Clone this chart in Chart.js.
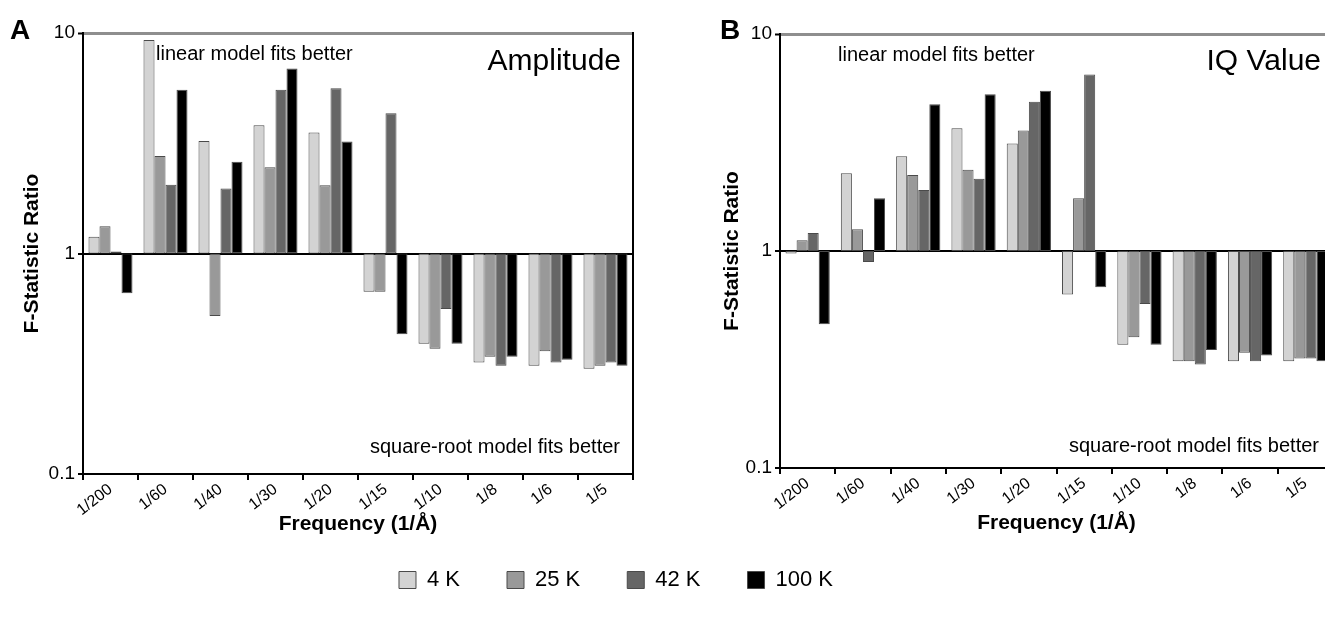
<!DOCTYPE html>
<html>
<head>
<meta charset="utf-8">
<script src="https://cdn.jsdelivr.net/npm/chart.js@4.4.1/dist/chart.umd.min.js"></script>
<style>
  html, body { margin: 0; padding: 0; background: #ffffff; overflow: hidden; }
  #wrap { position: relative; width: 1325px; height: 621px; overflow: hidden; background: #ffffff; }
  #chartA { position: absolute; left: 0; top: 0; }
  #chartB { position: absolute; left: 700px; top: 0; }
</style>
</head>
<body>
<div id="wrap">
  <canvas id="chartA" width="1232" height="630"></canvas>
  <canvas id="chartB" width="700" height="630"></canvas>
</div>
<script>
// ---------- data ----------
const categories = ['1/200', '1/60', '1/40', '1/30', '1/20', '1/15', '1/10', '1/8', '1/6', '1/5'];
const seriesNames = ['4 K', '25 K', '42 K', '100 K'];

// Panel A: Amplitude
const amp4K   = [1.19, 9.3, 3.24, 3.82, 3.54, 0.67, 0.39, 0.32, 0.31, 0.30];
const amp25K  = [1.33, 2.77, 0.52, 2.46, 2.04, 0.67, 0.37, 0.34, 0.36, 0.31];
const amp42K  = [1.02, 2.05, 1.97, 5.53, 5.62, 4.33, 0.56, 0.31, 0.32, 0.32];
const amp100K = [0.66, 5.53, 2.61, 6.91, 3.22, 0.43, 0.39, 0.34, 0.33, 0.31];

// Panel B: IQ Value
const iq4K   = [0.975, 2.28, 2.73, 3.68, 3.13, 0.63, 0.37, 0.31, 0.31, 0.31];
const iq25K  = [1.12, 1.26, 2.24, 2.37, 3.59, 1.75, 0.40, 0.31, 0.34, 0.32];
const iq42K  = [1.21, 0.89, 1.91, 2.15, 4.87, 6.50, 0.57, 0.30, 0.31, 0.32];
const iq100K = [0.46, 1.75, 4.75, 5.27, 5.48, 0.68, 0.37, 0.35, 0.33, 0.31];

const yTickValues = [0.1, 1, 10];
const yTickLabels = ['0.1', '1', '10'];
const baseValue = 1; // bars grow from the F-ratio of 1

// ---------- styles ----------
const FONT = "'Liberation Sans', Arial, Helvetica, sans-serif";
const barColors = ['#d3d3d3', '#999999', '#666666', '#000000'];

function makeDatasets(arrs) {
  return arrs.map((vals, i) => ({
    label: seriesNames[i],
    data: vals.map(v => [baseValue, v]),
    backgroundColor: barColors[i],
    borderColor: '#4a4a4a',
    borderWidth: 1,
    borderSkipped: false,
    categoryPercentage: 0.8,
    barPercentage: 1.0
  }));
}

function yScale(width, titlePadTop) {
  return {
    type: 'logarithmic',
    min: 0.1,
    max: 10,
    afterBuildTicks: s => { s.ticks = yTickValues.map(v => ({ value: v })); },
    afterFit: s => { s.width = width; },
    ticks: {
      callback: (v, i) => yTickLabels[i],
      font: { family: FONT, size: 19 },
      color: '#000',
      padding: 3
    },
    grid: {
      color: c => (c.tick && c.tick.value === 1) ? '#000000' : (c.tick && c.tick.value === 10) ? '#8e8e8e' : 'rgba(0,0,0,0)',
      lineWidth: c => (c.tick && c.tick.value === 10) ? 3 : 2,
      tickColor: '#000',
      tickLength: 5,
      tickWidth: 2
    },
    border: { color: '#000', width: 2 },
    title: {
      display: true,
      text: 'F-Statistic Ratio',
      font: { family: FONT, size: 21, weight: 'bold' },
      color: '#000',
      padding: { top: titlePadTop, bottom: 0 }
    }
  };
}

function xScale(height, titlePadBottom) {
  return {
    type: 'category',
    offset: true,
    afterFit: s => { s.height = height; },
    grid: { offset: true, drawOnChartArea: false, color: '#000', tickLength: 6, lineWidth: 2 },
    border: { color: '#000', width: 2 },
    ticks: {
      autoSkip: false, minRotation: 38, maxRotation: 38,
      font: { family: FONT, size: 16 }, color: '#000', padding: 0
    },
    title: {
      display: true,
      text: 'Frequency (1/Å)',
      font: { family: FONT, size: 21, weight: 'bold' },
      color: '#000',
      padding: { top: 0, bottom: titlePadBottom }
    }
  };
}

function annotPlugin(items) {
  return {
    id: 'annot',
    afterDraw(chart) {
      const { ctx, chartArea: a } = chart;
      ctx.save();
      ctx.fillStyle = '#000';
      ctx.textBaseline = 'alphabetic';
      items.forEach(it => {
        ctx.font = it.font;
        ctx.textAlign = it.align;
        const x = it.from === 'left' ? a.left + it.dx : it.from === 'right' ? a.right + it.dx : it.dx;
        ctx.fillText(it.text, x, a.top + it.dy);
      });
      ctx.restore();
    }
  };
}

Chart.defaults.font.family = FONT;
Chart.defaults.color = '#000';

// ---------- Panel A ----------
new Chart(document.getElementById('chartA'), {
  type: 'bar',
  data: { labels: categories, datasets: makeDatasets([amp4K, amp25K, amp42K, amp100K]) },
  options: {
    responsive: false,
    animation: false,
    layout: { padding: { left: 0, right: 0, top: 33, bottom: 29 } },
    scales: {
      x: xScale(48, -15),
      y: yScale(83, 20),
      yR: {
        type: 'linear', position: 'right', display: true,
        afterFit: s => { s.width = 599; },
        ticks: { display: false },
        grid: { display: false, drawTicks: false },
        border: { display: true, color: '#000', width: 2 }
      }
    },
    plugins: {
      tooltip: { enabled: false },
      legend: {
        display: true,
        position: 'bottom',
        labels: {
          boxWidth: 17, boxHeight: 17, padding: 47,
          font: { family: FONT, size: 22 }, color: '#000'
        }
      }
    }
  },
  plugins: [annotPlugin([
    { text: 'A', font: `bold 28px ${FONT}`, align: 'left', from: 'abs', dx: 10, dy: 6 },
    { text: 'linear model fits better', font: `20px ${FONT}`, align: 'left', from: 'left', dx: 73, dy: 27 },
    { text: 'Amplitude', font: `30px ${FONT}`, align: 'right', from: 'right', dx: -12, dy: 37 },
    { text: 'square-root model fits better', font: `20px ${FONT}`, align: 'right', from: 'right', dx: -13, dy: 420 }
  ])]
});

// ---------- Panel B ----------
new Chart(document.getElementById('chartB'), {
  type: 'bar',
  data: { labels: categories, datasets: makeDatasets([iq4K, iq25K, iq42K, iq100K]) },
  options: {
    responsive: false,
    animation: false,
    layout: { padding: { left: 0, right: 67, top: 34, bottom: 94 } },
    scales: {
      x: xScale(68, 0),
      y: yScale(80, 20)
    },
    plugins: {
      tooltip: { enabled: false },
      legend: { display: false }
    }
  },
  plugins: [annotPlugin([
    { text: 'B', font: `bold 28px ${FONT}`, align: 'left', from: 'abs', dx: 20, dy: 5 },
    { text: 'linear model fits better', font: `20px ${FONT}`, align: 'left', from: 'left', dx: 58, dy: 27 },
    { text: 'IQ Value', font: `30px ${FONT}`, align: 'right', from: 'right', dx: -12, dy: 36 },
    { text: 'square-root model fits better', font: `20px ${FONT}`, align: 'right', from: 'right', dx: -14, dy: 418 }
  ])]
});
</script>
</body>
</html>
